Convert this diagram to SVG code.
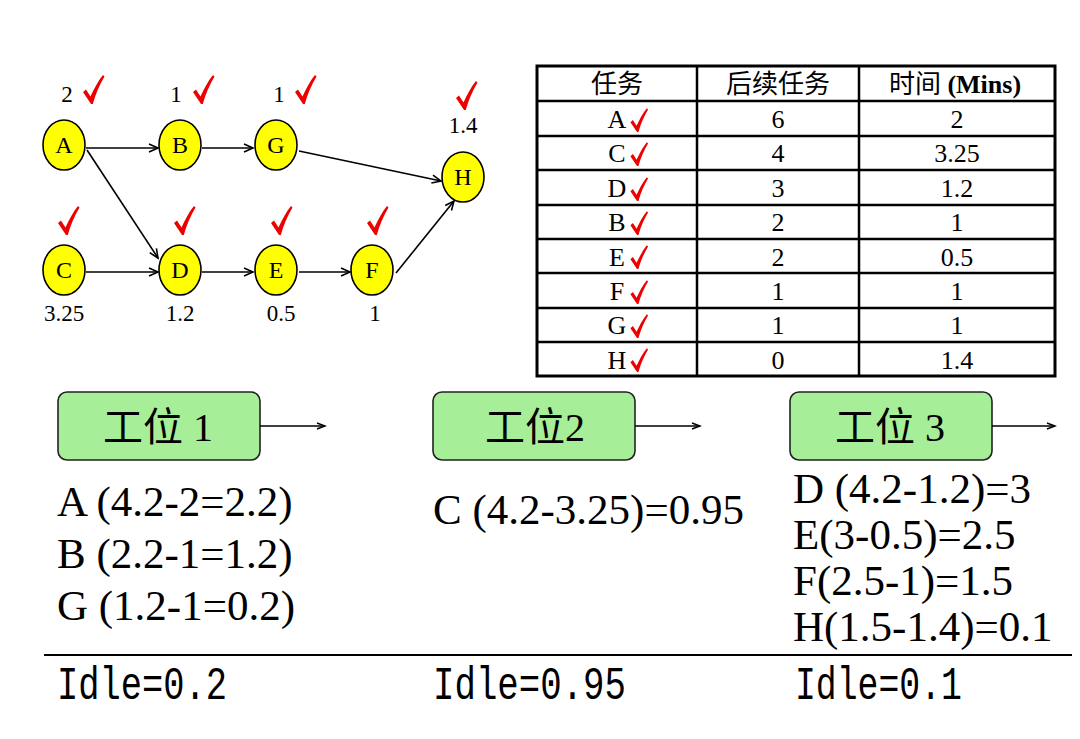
<svg xmlns="http://www.w3.org/2000/svg" xmlns:xlink="http://www.w3.org/1999/xlink" width="1080" height="739" viewBox="0 0 1080 739">
<style>
.node ellipse{fill:#ffff00;stroke:#000;stroke-width:1.6}
.nl{font-family:"Liberation Serif",serif;font-size:24px;fill:#000;text-anchor:middle}
.val{font-family:"Liberation Serif",serif;font-size:23px;fill:#000;text-anchor:middle}
.edge{stroke:#000;stroke-width:1.6;fill:none;marker-end:url(#ah)}
.tick{fill:#ee0000}
.th{font-family:"Liberation Serif","Noto Sans CJK SC",serif;font-size:26px;fill:#000;text-anchor:middle}
.td{font-family:"Liberation Serif",serif;font-size:26px;fill:#000;text-anchor:middle}
.grid{stroke:#000;stroke-width:2.5;fill:none}
.box rect{fill:#a6ee98;stroke:#222;stroke-width:1.6}
.bt{font-family:"Liberation Serif","Noto Sans CJK SC",serif;font-size:40px;fill:#000;text-anchor:middle}
.lst{font-family:"Liberation Serif",serif;font-size:43px;fill:#000}
.idle{font-family:"Liberation Mono",monospace;font-size:34px;fill:#000}
.sarrow{stroke:#000;stroke-width:1.4;fill:none;marker-end:url(#ah2)}
</style>
<defs>
<marker id="ah" markerWidth="12" markerHeight="10" refX="10" refY="5" orient="auto" markerUnits="userSpaceOnUse">
<path d="M1,1 L10,5 L1,9" fill="none" stroke="#000" stroke-width="1.6"/>
</marker>
<marker id="ah2" markerWidth="12" markerHeight="10" refX="10" refY="5" orient="auto" markerUnits="userSpaceOnUse">
<path d="M2,2 L10,5 L2,8" fill="none" stroke="#000" stroke-width="1.4"/>
</marker>
<path id="tk" class="tick" d="M0,0 L-8,-12 L-5,-14.5 L-0.5,-7.5 C3,-15 7,-23 12,-29 L13.5,-27.5 C8.5,-19 4.5,-10 1.8,0 Z"/>
</defs>
<rect width="1080" height="739" fill="#fff"/>

<g id="connectors">
<line class="edge" x1="86" y1="148" x2="158" y2="148"/>
<line class="edge" x1="87" y1="150" x2="158" y2="258"/>
<line class="edge" x1="86" y1="272" x2="158" y2="272"/>
<line class="edge" x1="202" y1="148" x2="253" y2="148"/>
<line class="edge" x1="299" y1="151" x2="441" y2="181"/>
<line class="edge" x1="202" y1="272" x2="253" y2="272"/>
<line class="edge" x1="299" y1="272" x2="350" y2="272"/>
<line class="edge" x1="396" y1="273" x2="454" y2="201"/>
</g>

<g id="node-A" class="node"><ellipse cx="64" cy="145" rx="21" ry="25"/><text class="nl" x="64" y="153">A</text><text class="val" x="67" y="102">2</text><use xlink:href="#tk" x="91" y="104"/></g>
<g id="node-B" class="node"><ellipse cx="180" cy="145" rx="21" ry="25"/><text class="nl" x="180" y="153">B</text><text class="val" x="176" y="102">1</text><use xlink:href="#tk" x="201" y="104"/></g>
<g id="node-G" class="node"><ellipse cx="276" cy="145" rx="21" ry="25"/><text class="nl" x="276" y="153">G</text><text class="val" x="279" y="102">1</text><use xlink:href="#tk" x="303" y="104"/></g>
<g id="node-H" class="node"><ellipse cx="463" cy="177" rx="21" ry="25"/><text class="nl" x="463" y="185">H</text><use xlink:href="#tk" x="464" y="110"/><text class="val" x="463" y="133">1.4</text></g>
<g id="node-C" class="node"><ellipse cx="64" cy="270" rx="21" ry="25"/><text class="nl" x="64" y="278">C</text><use xlink:href="#tk" x="66" y="235"/><text class="val" x="64" y="321">3.25</text></g>
<g id="node-D" class="node"><ellipse cx="180" cy="270" rx="21" ry="25"/><text class="nl" x="180" y="278">D</text><use xlink:href="#tk" x="182" y="235"/><text class="val" x="180" y="321">1.2</text></g>
<g id="node-E" class="node"><ellipse cx="276" cy="270" rx="21" ry="25"/><text class="nl" x="276" y="278">E</text><use xlink:href="#tk" x="279" y="235"/><text class="val" x="281" y="321">0.5</text></g>
<g id="node-F" class="node"><ellipse cx="372" cy="270" rx="21" ry="25"/><text class="nl" x="372" y="278">F</text><use xlink:href="#tk" x="375" y="235"/><text class="val" x="375" y="321">1</text></g>

<g id="table">
<rect x="537" y="66" width="518" height="310" fill="#fff" stroke="#000" stroke-width="3"/>
<path class="grid" d="M697,66 V376 M859,66 V376 M537,101 H1055 M537,136 H1055 M537,170 H1055 M537,205 H1055 M537,239 H1055 M537,273 H1055 M537,308 H1055 M537,342 H1055"/>
<text class="th" x="617" y="93">任务</text>
<text class="th" x="778" y="93">后续任务</text>
<text class="th" x="955" y="93">时间 <tspan font-weight="bold">(Mins)</tspan></text>
<g>
<text class="td" x="617" y="128">A</text><text class="td" x="778" y="128">6</text><text class="td" x="957" y="128">2</text>
<text class="td" x="617" y="162">C</text><text class="td" x="778" y="162">4</text><text class="td" x="957" y="162">3.25</text>
<text class="td" x="617" y="197">D</text><text class="td" x="778" y="197">3</text><text class="td" x="957" y="197">1.2</text>
<text class="td" x="617" y="231">B</text><text class="td" x="778" y="231">2</text><text class="td" x="957" y="231">1</text>
<text class="td" x="617" y="266">E</text><text class="td" x="778" y="266">2</text><text class="td" x="957" y="266">0.5</text>
<text class="td" x="617" y="300">F</text><text class="td" x="778" y="300">1</text><text class="td" x="957" y="300">1</text>
<text class="td" x="617" y="334">G</text><text class="td" x="778" y="334">1</text><text class="td" x="957" y="334">1</text>
<text class="td" x="617" y="369">H</text><text class="td" x="778" y="369">0</text><text class="td" x="957" y="369">1.4</text>
</g>
<use xlink:href="#tk" transform="translate(637,132) scale(0.82)"/>
<use xlink:href="#tk" transform="translate(637,166) scale(0.82)"/>
<use xlink:href="#tk" transform="translate(637,201) scale(0.82)"/>
<use xlink:href="#tk" transform="translate(637,235) scale(0.82)"/>
<use xlink:href="#tk" transform="translate(637,269) scale(0.82)"/>
<use xlink:href="#tk" transform="translate(637,304) scale(0.82)"/>
<use xlink:href="#tk" transform="translate(637,338) scale(0.82)"/>
<use xlink:href="#tk" transform="translate(637,372) scale(0.82)"/>
</g>

<g id="station-1" class="box"><rect x="58" y="392" width="202" height="68" rx="9"/><text class="bt" x="158" y="441">工位 1</text></g>
<g id="station-2" class="box"><rect x="433" y="392" width="202" height="68" rx="9"/><text class="bt" x="535" y="441">工位2</text></g>
<g id="station-3" class="box"><rect x="790" y="392" width="202" height="68" rx="9"/><text class="bt" x="890" y="441">工位 3</text></g>
<g id="station-arrows">
<line class="sarrow" x1="260" y1="426" x2="325" y2="426"/>
<line class="sarrow" x1="635" y1="426" x2="700" y2="426"/>
<line class="sarrow" x1="992" y1="426" x2="1055" y2="426"/>
</g>

<g id="lists">
<text class="lst" x="57" y="516">A (4.2-2=2.2)</text>
<text class="lst" x="57" y="568">B (2.2-1=1.2)</text>
<text class="lst" x="57" y="620">G (1.2-1=0.2)</text>
<text class="lst" x="433" y="524">C (4.2-3.25)=0.95</text>
<text class="lst" x="793" y="503">D (4.2-1.2)=3</text>
<text class="lst" x="793" y="549">E(3-0.5)=2.5</text>
<text class="lst" x="793" y="595">F(2.5-1)=1.5</text>
<text class="lst" x="793" y="641">H(1.5-1.4)=0.1</text>
</g>

<line x1="44" y1="655" x2="1072" y2="655" stroke="#000" stroke-width="2"/>
<g id="idle" transform="scale(1,1.35)">
<text class="idle" x="57" y="518" textLength="170" lengthAdjust="spacingAndGlyphs">Idle=0.2</text>
<text class="idle" x="433" y="518" textLength="193" lengthAdjust="spacingAndGlyphs">Idle=0.95</text>
<text class="idle" x="795" y="518" textLength="167" lengthAdjust="spacingAndGlyphs">Idle=0.1</text>
</g>
</svg>
